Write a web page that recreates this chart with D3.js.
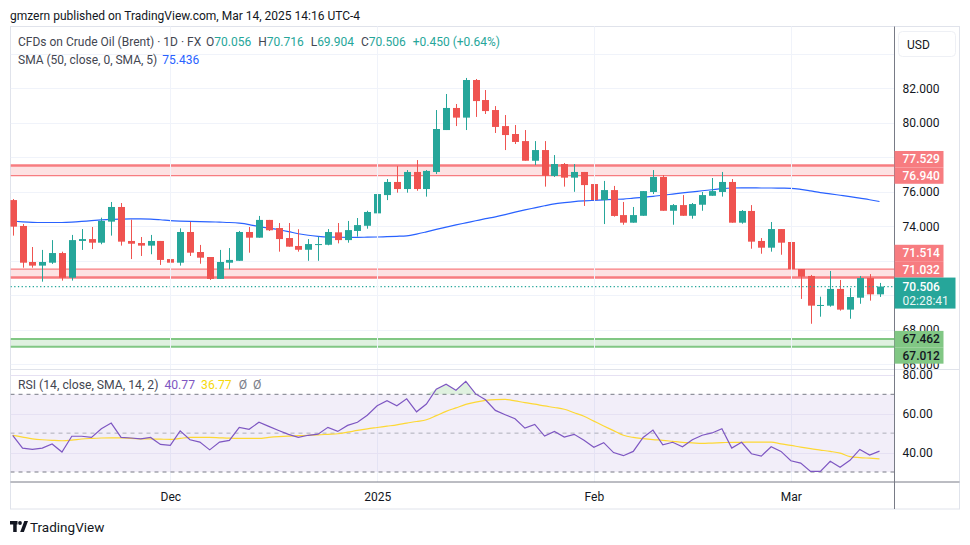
<!DOCTYPE html>
<html><head><meta charset="utf-8">
<script src="https://cdn.jsdelivr.net/npm/d3@7/dist/d3.min.js"></script>
<style>
html,body{margin:0;padding:0;background:#fff;}
svg{display:block;font-family:Roboto,"Noto Sans",sans-serif;}
</style></head><body>
<svg id="c" width="970" height="545"></svg>
<script>
// ---------------- DATA ----------------
const monthIdx = [16, 37, 59, 79];
const monthLabels = ["Dec", "2025", "Feb", "Mar"];
const priceTicks = [66, 68, 70, 72, 74, 76, 78, 80, 82, 84];
const rsiTicks = [40, 60, 80];
const rsiLevels = [70, 50, 30];

const open = [75.52,74.02,71.93,71.72,71.89,72.45,71.02,73.15,73.26,73.05,74.27,75.12,73.15,73.03,72.88,73.15,72.10,71.89,73.67,72.51,
72.22,70.95,71.89,72.00,73.67,73.34,74.37,73.90,73.32,72.86,72.64,72.93,72.93,73.65,73.20,73.73,74.03,74.75,75.81,76.57,
76.16,77.15,76.16,77.15,79.58,80.86,80.30,82.48,81.32,80.74,79.81,79.35,78.94,77.80,78.42,76.92,77.61,76.82,77.15,76.45,
75.52,76.10,74.65,74.21,74.61,75.99,76.86,74.90,75.23,74.61,75.25,75.77,75.99,76.57,74.21,74.89,73.15,72.76,73.84,73.09,
71.52,71.12,69.40,69.40,70.37,69.17,69.86,71.00,70.056];
const high = [75.58,74.13,72.80,72.63,73.20,72.53,73.50,73.84,73.96,74.50,75.41,75.35,74.38,73.38,73.50,73.15,72.92,73.88,74.25,72.92,
72.22,72.63,72.74,73.73,73.96,74.60,74.37,74.19,74.19,73.83,73.26,73.40,73.84,74.19,74.31,74.48,74.90,76.51,76.74,77.50,
77.26,77.84,77.26,80.74,81.67,81.09,82.60,82.54,81.90,80.97,80.45,79.87,79.58,78.94,78.94,78.13,77.67,77.61,77.15,77.21,
76.63,76.34,75.41,75.12,76.04,77.26,76.97,75.29,75.81,75.35,75.99,76.80,77.15,76.74,74.94,75.23,73.32,74.25,73.84,73.67,
71.52,71.18,69.92,71.41,70.89,70.42,71.12,71.23,70.716];
const low = [73.46,71.60,71.60,70.79,71.82,70.85,70.85,72.63,72.68,72.96,73.46,72.88,72.10,72.28,72.38,71.76,71.51,71.72,72.28,71.83,
70.89,70.95,71.51,72.00,72.47,73.34,73.73,72.53,72.82,72.53,72.00,72.00,72.90,73.01,73.05,73.40,73.86,74.71,75.52,75.95,
75.95,76.06,75.72,77.03,79.58,79.81,79.58,80.34,80.51,79.41,78.42,78.77,77.80,77.55,76.30,76.86,76.30,76.00,75.18,75.06,
74.13,74.56,74.09,74.21,74.61,75.87,74.90,74.09,74.61,74.44,74.90,75.77,75.72,74.21,74.15,72.70,72.41,72.53,72.35,71.18,
69.79,68.35,68.76,69.34,69.11,68.64,69.51,69.69,69.904];
const close = [73.98,71.89,71.72,71.93,72.45,71.02,73.20,73.26,73.05,74.31,75.12,73.11,72.99,72.88,73.15,72.05,71.89,73.67,72.47,72.18,
70.95,71.93,72.05,73.67,73.34,74.37,73.77,73.26,72.82,72.64,72.97,72.97,73.67,73.20,73.78,74.07,74.83,75.87,76.57,76.16,
77.15,76.16,77.21,79.64,80.86,80.30,82.48,81.26,80.68,79.76,79.29,78.89,77.80,78.42,76.93,77.61,76.82,77.15,76.39,75.52,
76.10,74.60,74.21,74.65,76.04,76.86,74.90,75.23,74.61,75.29,75.81,76.04,76.57,74.21,74.89,73.11,72.76,73.84,73.05,71.52,
71.08,69.40,69.44,70.37,69.17,69.90,71.00,70.056,70.506];
const sma50 = [74.30,74.26,74.23,74.22,74.22,74.22,74.24,74.28,74.33,74.37,74.40,74.42,74.43,74.43,74.42,74.38,74.33,74.30,74.28,74.27,
74.26,74.24,74.22,74.18,74.10,73.98,73.89,73.80,73.69,73.57,73.48,73.42,73.38,73.37,73.36,73.36,73.37,73.38,73.40,73.42,
73.45,73.55,73.68,73.82,73.95,74.08,74.20,74.32,74.44,74.55,74.68,74.82,74.95,75.07,75.19,75.30,75.37,75.43,75.47,75.50,
75.53,75.56,75.58,75.63,75.68,75.74,75.80,75.87,75.94,76.00,76.06,76.12,76.18,76.22,76.23,76.23,76.22,76.22,76.21,76.20,
76.14,76.05,75.95,75.88,75.80,75.72,75.63,75.54,75.436];
const rsi = [48.9,42.3,41.6,42.3,44.4,40.3,48.4,48.4,47.8,52.3,55.2,47.8,47.5,47.1,47.8,44.2,43.7,51.2,46.6,45.4,
41.4,45.4,46.3,53.0,52.0,55.6,53.5,51.4,49.4,47.8,48.9,49.5,53.0,50.9,54.0,55.6,59.2,64.1,66.7,64.1,
67.7,61.0,65.0,72.6,75.2,72.1,76.7,70.2,67.2,61.7,59.5,57.4,52.6,54.5,48.5,50.9,48.0,49.4,46.3,42.7,
45.1,40.0,38.4,40.6,47.8,51.6,44.0,45.3,43.0,46.6,48.9,50.1,52.3,42.3,45.3,39.4,38.2,43.0,40.6,35.8,
34.6,30.3,30.3,35.5,32.4,36.0,41.6,38.7,40.77];
const rsiSma = [48.9,48.0,47.1,46.6,46.3,46.1,46.4,47.0,47.3,47.5,47.6,47.6,47.3,47.1,47.0,46.9,46.8,47.3,47.8,47.8,
47.8,47.6,47.4,47.3,47.3,47.3,47.8,48.2,48.5,48.7,48.9,49.1,49.4,49.7,50.5,51.4,52.2,52.9,53.6,54.3,
55.2,56.0,56.9,59.0,61.2,63.0,64.8,66.0,66.9,67.3,67.4,66.6,65.7,64.9,64.0,63.2,62.3,60.5,58.7,56.2,
53.7,51.3,48.9,47.8,47.2,46.7,46.3,45.8,45.3,45.0,44.7,44.9,45.1,45.3,45.3,45.4,45.4,45.4,44.5,43.7,
42.8,42.0,41.3,40.6,39.7,37.9,37.4,37.1,36.77];
const zones = [
  {top: 77.529, bottom: 76.940, kind: "red"},
  {top: 71.514, bottom: 71.032, kind: "red"},
  {top: 67.462, bottom: 67.012, kind: "green"}
];
const countdown = "02:28:41";

// ---------------- LAYOUT ----------------
const L = 10.5, R = 894.5, FR = 959.5, TOP = 26.5, PB = 369.5, RB = 482, AB = 509;
const UP = "#26a69a", DN = "#ef5350";
const svg = d3.select("#c");
const n = close.length;
const x = d3.scaleLinear().domain([0, n - 1]).range([12.7, 879.5]);
const y = d3.scaleLinear().domain([66, 82]).range([364.3, 88.3]);
const ry = d3.scaleLinear().domain([30, 70]).range([472, 394.3]);

const defs = svg.append("defs");
defs.append("clipPath").attr("id", "cp").append("rect").attr("x", L).attr("y", TOP).attr("width", R - L).attr("height", PB - TOP);
defs.append("clipPath").attr("id", "cr").append("rect").attr("x", L).attr("y", PB).attr("width", R - L).attr("height", RB - PB);
defs.append("clipPath").attr("id", "ca").append("rect").attr("x", R).attr("y", TOP).attr("width", FR - R).attr("height", PB - TOP);

// header
svg.append("text").attr("x", 10).attr("y", 19.5).attr("font-size", 12).attr("fill", "#131722")
  .text("gmzern published on TradingView.com, Mar 14, 2025 14:16 UTC-4");

// frame
svg.append("rect").attr("x", L).attr("y", TOP).attr("width", FR - L).attr("height", AB - TOP)
  .attr("fill", "#fff").attr("stroke", "#e0e3eb");

// grid (price pane)
const gp = svg.append("g").attr("clip-path", "url(#cp)");
gp.selectAll(".hg").data(priceTicks).join("line")
  .attr("x1", L).attr("x2", R).attr("y1", d => Math.round(y(d)) + 0.5).attr("y2", d => Math.round(y(d)) + 0.5)
  .attr("stroke", "#f0f3fa");
svg.selectAll(".vg").data(monthIdx).join("line")
  .attr("x1", d => Math.round(x(d)) + 0.5).attr("x2", d => Math.round(x(d)) + 0.5)
  .attr("y1", TOP).attr("y2", RB).attr("stroke", "#f0f3fa");

// zones
zones.forEach(z => {
  const col = z.kind === "red" ? "#f77c80" : "#81c784";
  const fill = z.kind === "red" ? "rgba(247,124,128,0.22)" : "rgba(129,199,132,0.25)";
  gp.append("rect").attr("x", L).attr("width", R - L).attr("y", y(z.top)).attr("height", y(z.bottom) - y(z.top)).attr("fill", fill);
  const wTop = z.kind === "red" && z.top > 75 ? 2.5 : (z.kind === "green" ? 2 : 1.3);
  const wBot = z.kind === "red" && z.top > 75 ? 1.3 : (z.kind === "green" ? 2 : 2.5);
  gp.append("line").attr("x1", L).attr("x2", R).attr("y1", y(z.top)).attr("y2", y(z.top)).attr("stroke", col).attr("stroke-width", wTop);
  gp.append("line").attr("x1", L).attr("x2", R).attr("y1", y(z.bottom)).attr("y2", y(z.bottom)).attr("stroke", col).attr("stroke-width", wBot);
});

// SMA 50
gp.append("path").datum(sma50).attr("fill", "none").attr("stroke", "#2962ff").attr("stroke-width", 1.2)
  .attr("d", d3.line().x((d, i) => x(i)).y(d => y(d)).curve(d3.curveMonotoneX));

// candles
const cg = gp.append("g");
const idx = d3.range(n);
cg.selectAll(".w").data(idx).join("line")
  .attr("x1", i => Math.round(x(i)) + 0.5).attr("x2", i => Math.round(x(i)) + 0.5)
  .attr("y1", i => y(high[i])).attr("y2", i => y(low[i]))
  .attr("stroke", i => close[i] >= open[i] ? UP : DN).attr("stroke-width", 1);
cg.selectAll(".b").data(idx).join("rect")
  .attr("x", i => Math.round(x(i)) + 0.5 - 3.5).attr("width", 7)
  .attr("y", i => y(Math.max(open[i], close[i])))
  .attr("height", i => Math.max(1, Math.abs(y(open[i]) - y(close[i]))))
  .attr("fill", i => close[i] >= open[i] ? UP : DN);

// current price dotted line
const last = close[n - 1];
gp.append("line").attr("x1", L).attr("x2", R).attr("y1", y(last)).attr("y2", y(last))
  .attr("stroke", UP).attr("stroke-width", 1.3).attr("stroke-dasharray", "1.3,2.4");

// RSI pane
const gr = svg.append("g").attr("clip-path", "url(#cr)");
gr.append("rect").attr("x", L).attr("width", R - L).attr("y", ry(70)).attr("height", ry(30) - ry(70)).attr("fill", "rgba(126,87,194,0.1)");
gr.selectAll(".rg").data(rsiTicks).join("line")
  .attr("x1", L).attr("x2", R).attr("y1", d => Math.round(ry(d)) + 0.5).attr("y2", d => Math.round(ry(d)) + 0.5)
  .attr("stroke", "#e6e1f3");
gr.selectAll(".rl").data(rsiLevels).join("line")
  .attr("x1", L).attr("x2", R).attr("y1", d => ry(d)).attr("y2", d => ry(d))
  .attr("stroke", d => d === 50 ? "rgba(120,123,134,0.55)" : "#787b86").attr("stroke-dasharray", "4,4");
gr.append("path").datum(rsi).attr("fill", "rgba(76,175,80,0.18)")
  .attr("d", d3.area().x((d, i) => x(i)).y0(ry(70)).y1(d => ry(Math.max(d, 70))));
gr.append("path").datum(rsiSma).attr("fill", "none").attr("stroke", "#fdd835").attr("stroke-width", 1.2)
  .attr("d", d3.line().x((d, i) => x(i)).y(d => ry(d)).curve(d3.curveMonotoneX));
gr.append("path").datum(rsi).attr("fill", "none").attr("stroke", "#7e57c2").attr("stroke-width", 1.2)
  .attr("d", d3.line().x((d, i) => x(i)).y(d => ry(d)));

// separators & axis lines
svg.append("line").attr("x1", L).attr("x2", R).attr("y1", PB).attr("y2", PB).attr("stroke", "#e0e3eb");
svg.append("line").attr("x1", R).attr("x2", FR).attr("y1", PB).attr("y2", PB).attr("stroke", "#e0e3eb");
svg.append("line").attr("x1", L).attr("x2", FR).attr("y1", RB).attr("y2", RB).attr("stroke", "#787b86");
svg.append("line").attr("x1", R).attr("x2", R).attr("y1", TOP).attr("y2", AB).attr("stroke", "#787b86");

// price label box positions (stacked so they do not overlap)
const BH = 16.4, BW = 49;
const f3 = d3.format(".3f");
const cy0 = y(last);
const boxes = [];
{ const z = zones[0]; const b = y(z.bottom); boxes.push({cy: b - BH, t: f3(z.top), k: "red"}, {cy: b, t: f3(z.bottom), k: "red"}); }
{ const z = zones[1]; const lim = Math.min(y(z.bottom), cy0 - 9 - BH / 2); boxes.push({cy: lim - BH, t: f3(z.top), k: "red"}, {cy: lim, t: f3(z.bottom), k: "red"}); }
{ const z = zones[2]; const t = y(z.top); boxes.push({cy: t, t: f3(z.top), k: "green"}, {cy: t + BH, t: f3(z.bottom), k: "green"}); }
const covered = [[cy0 - 9, cy0 + 22]].concat(boxes.map(b => [b.cy - BH / 2, b.cy + BH / 2]));
const visTicks = priceTicks.filter(t => t <= 82 && !covered.some(r => y(t) >= r[0] && y(t) <= r[1]));

// price axis
const pa = svg.append("g").attr("clip-path", "url(#ca)").append("g").attr("transform", `translate(${R},0)`)
  .call(d3.axisRight(y).tickValues(visTicks).tickFormat(d3.format(".3f")).tickSize(0).tickPadding(8));
pa.select(".domain").remove();
pa.selectAll("text").attr("font-size", 12).attr("fill", "#131722").attr("font-family", "Roboto,sans-serif");

// RSI axis
const ra = svg.append("g").attr("transform", `translate(${R},0)`)
  .call(d3.axisRight(ry).tickValues(rsiTicks).tickFormat(d3.format(".2f")).tickSize(0).tickPadding(8));
ra.select(".domain").remove();
ra.selectAll("text").attr("font-size", 12).attr("fill", "#131722").attr("font-family", "Roboto,sans-serif");

// time axis
const ta = svg.append("g").attr("transform", `translate(0,${RB})`)
  .call(d3.axisBottom(x).tickValues(monthIdx).tickFormat((d, i) => monthLabels[i]).tickSize(0).tickPadding(10));
ta.select(".domain").remove();
ta.selectAll("text").attr("font-size", 12).attr("fill", "#131722").attr("font-family", "Roboto,sans-serif");

// label boxes
boxes.forEach(b => {
  const fill = b.k === "red" ? "#f77c80" : "#81c784";
  const tc = b.k === "red" ? "#fff" : "#131722";
  svg.append("rect").attr("x", R).attr("y", b.cy - BH / 2).attr("width", BW).attr("height", BH).attr("fill", fill);
  svg.append("text").attr("x", R + 8).attr("y", b.cy + 4.3).attr("font-size", 12).attr("font-weight", 500)
    .attr("fill", tc).text(b.t);
});
svg.append("rect").attr("x", R).attr("y", cy0 - 9).attr("width", 61).attr("height", 31).attr("fill", UP);
svg.append("text").attr("x", R + 8).attr("y", cy0 + 4.3).attr("font-size", 12).attr("font-weight", 500).attr("fill", "#fff").text(f3(last));
svg.append("text").attr("x", R + 8).attr("y", cy0 + 18.3).attr("font-size", 12).attr("fill", "#e8f6f4").text(countdown);

// USD box
svg.append("rect").attr("x", 898.5).attr("y", 31.5).attr("width", 57).attr("height", 25).attr("rx", 4)
  .attr("fill", "#fff").attr("stroke", "#eef0f5");
svg.append("text").attr("x", 907).attr("y", 48.5).attr("font-size", 12).attr("fill", "#131722").text("USD");

// legends
const prev = close[n - 2];
const chg = last - prev;
const lg = svg.append("text").attr("x", 18).attr("y", 46).attr("font-size", 12);
lg.append("tspan").attr("fill", "#434651").text("CFDs on Crude Oil (Brent) · 1D · FX");
[["O", open[n - 1]], ["H", high[n - 1]], ["L", low[n - 1]], ["C", last]].forEach((p, k) => {
  lg.append("tspan").attr("dx", k === 0 ? 5 : 7).attr("fill", "#434651").text(p[0]);
  lg.append("tspan").attr("fill", UP).text(f3(p[1]));
});
lg.append("tspan").attr("dx", 7).attr("fill", UP).text((chg >= 0 ? "+" : "") + f3(chg) + " (" + (chg >= 0 ? "+" : "") + d3.format(".2f")(chg / prev * 100) + "%)");

const lg2 = svg.append("text").attr("x", 18).attr("y", 63.5).attr("font-size", 12);
lg2.append("tspan").attr("fill", "#434651").text("SMA (50, close, 0, SMA, 5)");
lg2.append("tspan").attr("dx", 5).attr("fill", "#2962ff").text(f3(sma50[n - 1]));

const lg3 = svg.append("text").attr("x", 18).attr("y", 389).attr("font-size", 12.2);
lg3.append("tspan").attr("fill", "#434651").text("RSI (14, close, SMA, 14, 2)");
lg3.append("tspan").attr("dx", 6).attr("fill", "#7e57c2").text(d3.format(".2f")(rsi[n - 1]));
lg3.append("tspan").attr("dx", 6).attr("fill", "#f5d90a").text(d3.format(".2f")(rsiSma[n - 1]));
lg3.append("tspan").attr("dx", 7).attr("fill", "#787b86").text("Ø");
lg3.append("tspan").attr("dx", 6).attr("fill", "#787b86").text("Ø");

// TradingView logo
const lgG = svg.append("g").attr("fill", "#131722");
lgG.append("rect").attr("x", 10).attr("y", 521).attr("width", 7.5).attr("height", 3.5);
lgG.append("rect").attr("x", 13.2).attr("y", 521).attr("width", 3.5).attr("height", 11);
lgG.append("circle").attr("cx", 20).attr("cy", 523).attr("r", 1.9);
lgG.append("path").attr("d", "M20.2,532 L24.3,521 L28,521 L23.9,532 Z");
svg.append("text").attr("x", 30).attr("y", 532).attr("font-size", 13.5).attr("fill", "#131722").text("TradingView");
</script>
</body></html>
